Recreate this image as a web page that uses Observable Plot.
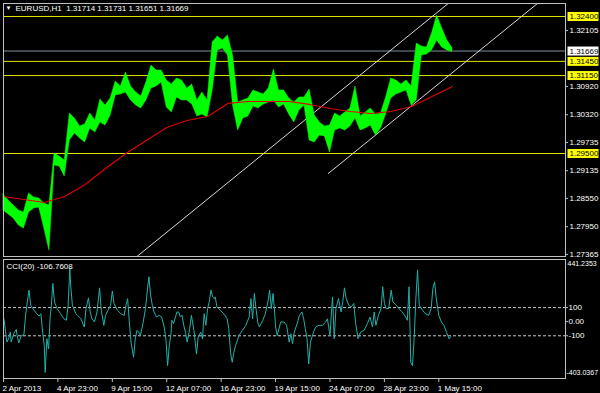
<!DOCTYPE html>
<html><head><meta charset="utf-8">
<script src="https://cdn.jsdelivr.net/npm/d3@7"></script>
<script src="https://cdn.jsdelivr.net/npm/@observablehq/plot@0.6"></script>
<style>
html,body{margin:0;padding:0;background:#000;}
#chart{position:relative;width:600px;height:393px;background:#000;overflow:hidden;}
#chart svg{position:absolute;left:0;display:block;}
</style></head><body><div id="chart"></div>
<script>
// ---- data ----
const symbol = "EURUSD,H1";
const lastBar = [1.31714, 1.31731, 1.31651, 1.31669]; // O H L C
const visibleBars = 661;
const barStep = 6;
const priceHigh = [1.28632,1.28505,1.28400,1.28294,1.28251,1.28654,1.28569,1.28548,1.28442,1.28400,
  1.29500,1.29437,1.29352,1.30347,1.30241,1.30072,1.30114,1.30347,1.30199,1.30643,
  1.30516,1.30665,1.31024,1.30919,1.31215,1.30919,1.30792,1.30707,1.31003,1.31363,
  1.31257,1.31257,1.31046,1.30961,1.31088,1.31046,1.30876,1.30961,1.30622,1.30792,
  1.30622,1.31850,1.31977,1.31892,1.31998,1.31575,1.30580,1.30622,1.30665,1.30834,
  1.30792,1.30749,1.30876,1.31278,1.30834,1.30834,1.30665,1.30580,1.30686,1.30686,
  1.30855,1.30305,1.30157,1.30072,1.30093,1.30347,1.30284,1.30368,1.30453,1.30919,
  1.30284,1.30368,1.30453,1.30326,1.30347,1.30686,1.31088,1.31046,1.30961,1.31046,
  1.30919,1.31829,1.31765,1.31744,1.32040,1.32421,1.32146,1.31892,1.31731];
const priceLow = [1.28294,1.28209,1.28124,1.27976,1.27913,1.28251,1.28336,1.28357,1.27913,1.27447,
  1.29246,1.29225,1.29013,1.29776,1.29924,1.29818,1.29733,1.30030,1.29945,1.30157,
  1.30093,1.30305,1.30728,1.30749,1.30792,1.30622,1.30516,1.30453,1.30622,1.30876,
  1.30919,1.31003,1.30474,1.30368,1.30686,1.30622,1.30622,1.30538,1.30284,1.30326,
  1.30262,1.30834,1.31681,1.31723,1.31575,1.30516,1.29987,1.30241,1.30284,1.30495,
  1.30453,1.30538,1.30580,1.30622,1.30474,1.30538,1.30326,1.30157,1.30411,1.30516,
  1.29776,1.29733,1.29881,1.29860,1.29521,1.29987,1.30030,1.29987,1.30072,1.30241,
  1.29987,1.30030,1.30093,1.29881,1.30030,1.30326,1.30665,1.30749,1.30792,1.30834,
  1.30516,1.30622,1.31575,1.31596,1.31681,1.31892,1.31744,1.31681,1.31651];
const maStep = 24;
const maValues = [1.28590,1.28527,1.28463,1.28590,1.28844,1.29183,1.29500,1.29776,1.30051,1.30199,
  1.30284,1.30559,1.30601,1.30601,1.30601,1.30538,1.30453,1.30389,1.30347,1.30389,
  1.30495,1.30707,1.30919];
const levels = [1.32400, 1.31450, 1.31150, 1.29500];
const bid = 1.31669;
const priceTicks = [1.32105, 1.30920, 1.30320, 1.29735, 1.29135, 1.28550, 1.27950, 1.27365];
const priceMin = 1.27320, priceMax = 1.32675;
const upperBars = [157, 523], upperPrices = [1.27320, 1.32675];
const lowerBars = [382, 628], lowerPrices = [1.29077, 1.32675];

const cciLabel = "CCI(20)";
const cciLast = -106.7608;
const cciMax = 441.2353, cciMin = -403.0367;
const cciLevels = [100, -100];
const cciTicks = [100, 0, -100];
const cciBars = [0,1,4,6,8,9,12,15,16,18,21,24,26,28,30,32,36,39,42,44,46,48,49,51,53,55,56,58,60,63,
  67,71,74,76,78,79,81,85,87,91,95,97,100,102,104,107,110,113,115,118,120,123,126,128,130,134,138,142,144,146,
  148,150,153,155,157,159,161,164,167,169,171,173,175,177,180,183,186,189,191,193,195,197,198,200,204,206,208,210,212,214,
  216,219,221,224,227,229,232,234,236,238,240,242,244,246,248,249,251,255,259,263,265,267,269,271,273,277,281,285,289,291,
  293,295,297,299,301,303,305,308,311,313,315,317,319,320,322,324,326,330,333,336,338,340,342,346,348,351,353,355,357,359,
  361,364,367,371,375,379,381,384,386,387,389,391,394,397,399,401,403,406,409,412,414,417,420,424,428,431,434,436,438,441,
  444,446,448,450,453,456,458,462,465,469,473,475,477,479,481,483,485,487,489,493,496,500,503,505,507,509,512,515,518,521,524,526];
const cciValues = [33,-2,-145,-121,-74,-145,-86,-55,-98,-150,-98,-93,45,140,224,117,81,57,40,57,-74,-169,-360,-121,-193,45,93,271,140,93,
  57,21,10,117,379,260,117,57,45,21,-38,93,169,69,21,-2,69,240,81,-26,45,81,117,217,129,81,57,45,117,164,
  -2,-145,-252,-121,-62,-74,-98,-14,93,212,319,188,117,69,33,45,33,-38,-121,-312,-169,-86,10,-14,69,69,33,45,-26,-74,
  -145,-50,45,-62,-229,-110,-74,-121,57,-26,93,140,224,176,164,176,105,81,57,21,-50,-217,-288,-217,-169,-98,-62,-26,33,164,
  21,200,93,-2,-38,-14,10,57,140,224,93,200,57,-38,-98,-50,-2,-2,-26,-145,-86,-157,-74,-2,45,69,21,-50,-121,-300,
  -145,-86,-38,-26,-26,-2,21,-98,93,176,-121,93,164,69,140,240,164,117,105,129,-2,-121,-74,-62,-14,33,-38,69,-26,45,
  93,248,129,93,93,224,140,117,93,69,33,10,248,-288,-312,-121,164,367,117,81,57,45,93,236,283,164,45,-2,-26,-74,-121,-106.7608];

const timeTickBars = [0, 64, 128, 192, 256, 320, 384, 448, 512];
const timeTickLabels = ["2 Apr 2013","4 Apr 23:00","9 Apr 15:00","12 Apr 07:00","16 Apr 23:00","19 Apr 15:00","24 Apr 07:00","28 Apr 23:00","1 May 15:00"];

// ---- derived tables ----
const priceData = priceHigh.map((h, i) => ({bar: i * barStep, high: h, low: priceLow[i]}));
const maData = maValues.map((v, i) => ({bar: i * maStep, ma: v}));
const upperData = upperBars.map((b, i) => ({bar: b, price: upperPrices[i]}));
const lowerData = lowerBars.map((b, i) => ({bar: b, price: lowerPrices[i]}));
const cciData = cciBars.map((b, i) => ({bar: b, v: cciValues[i]}));
const fmt5 = d => d.toFixed(5);
const font = "Liberation Sans, Arial, sans-serif";
const fs = 8;
const style = {background: "#000", color: "#fff", fontFamily: font, fontSize: fs + "px", overflow: "visible"};
const title = symbol + "\u00a0\u00a0" + lastBar.map(fmt5).join(" ");

const main = Plot.plot({
  width: 600, height: 258, marginTop: 3, marginBottom: 2, marginLeft: 3, marginRight: 35,
  style,
  x: {domain: [0, visibleBars], axis: null},
  y: {domain: [priceMin, priceMax], axis: null},
  marks: [
    Plot.ruleY(levels, {stroke: "#e4e400", strokeWidth: 1}),
    Plot.ruleY([bid], {stroke: "#7f8fa0", strokeWidth: 1}),
    Plot.line(upperData, {x: "bar", y: "price", stroke: "#d8d8d8", strokeWidth: 1, clip: true}),
    Plot.line(lowerData, {x: "bar", y: "price", stroke: "#d8d8d8", strokeWidth: 1, clip: true}),
    Plot.areaY(priceData, {x: "bar", y1: "low", y2: "high", fill: "#00ff00", stroke: "#00ff00", strokeWidth: 0.5}),
    Plot.line(maData, {x: "bar", y: "ma", stroke: "#e00000", strokeWidth: 1.2}),
    Plot.frame({stroke: "#c0c0c0"}),
    Plot.ruleY(priceTicks, {stroke: "#c0c0c0", insetLeft: 562, insetRight: -3}),
    Plot.text(priceTicks, {y: d => d, text: fmt5, frameAnchor: "right", textAnchor: "start", lineAnchor: "middle", dx: 4, fill: "#fff", fontSize: fs, fontFamily: font}),
    Plot.ruleY(levels, {stroke: "#ffff00", strokeWidth: 9, insetLeft: 564.5, insetRight: -33.5}),
    Plot.text(levels, {y: d => d, text: fmt5, frameAnchor: "right", textAnchor: "start", lineAnchor: "middle", dx: 4, fill: "#000", fontSize: fs, fontFamily: font}),
    Plot.ruleY([bid], {stroke: "#ffffff", strokeWidth: 9, insetLeft: 564.5, insetRight: -33.5}),
    Plot.text([bid], {y: d => d, text: fmt5, frameAnchor: "right", textAnchor: "start", lineAnchor: "middle", dx: 4, fill: "#000", fontSize: fs, fontFamily: font}),
    Plot.text(["\u25BC"], {text: d => d, frameAnchor: "top-left", dx: 5, dy: 5, textAnchor: "middle", lineAnchor: "middle", fill: "#fff", fontSize: 6}),
    Plot.text([title], {text: d => d, frameAnchor: "top-left", dx: 12, dy: 5, textAnchor: "start", lineAnchor: "middle", fill: "#fff", fontSize: fs, fontFamily: font})
  ]
});

const cci = Plot.plot({
  width: 600, height: 135, marginTop: 1, marginBottom: 15, marginLeft: 3, marginRight: 35,
  style,
  x: {domain: [0, visibleBars], axis: null},
  y: {domain: [cciMin, cciMax], axis: null},
  marks: [
    Plot.ruleY(cciLevels, {stroke: "#c8c8c8", strokeDasharray: "3,2"}),
    Plot.line(cciData, {x: "bar", y: "v", stroke: "#20b2aa", strokeWidth: 1}),
    Plot.frame({stroke: "#c0c0c0"}),
    Plot.ruleY(cciTicks, {stroke: "#c0c0c0", insetLeft: 562, insetRight: -3}),
    Plot.text(cciTicks, {y: d => d, text: d => d === 0 ? "0.00" : String(d), frameAnchor: "right", textAnchor: "start", lineAnchor: "middle", dx: 3, fill: "#fff", fontSize: fs, fontFamily: font}),
    Plot.text([cciMax], {y: d => d, text: d => d.toFixed(4), frameAnchor: "right", textAnchor: "start", lineAnchor: "middle", dx: 2, dy: 4, fill: "#fff", fontSize: 7, fontFamily: font}),
    Plot.text([cciMin], {y: d => d, text: d => d.toFixed(4), frameAnchor: "right", textAnchor: "start", lineAnchor: "middle", dx: 1, dy: -6, fill: "#fff", fontSize: 7, fontFamily: font}),
    Plot.text([cciLabel + " " + cciLast.toFixed(4)], {text: d => d, frameAnchor: "top-left", dx: 3, dy: 7, textAnchor: "start", lineAnchor: "middle", fill: "#fff", fontSize: fs, fontFamily: font}),
    Plot.ruleX(timeTickBars, {stroke: "#c0c0c0", insetTop: 119, insetBottom: -4}),
    Plot.text(timeTickBars, {x: d => d, text: (d, i) => timeTickLabels[i], frameAnchor: "bottom", textAnchor: "start", lineAnchor: "middle", dx: -1, dy: 10, fill: "#fff", fontSize: fs, fontFamily: font})
  ]
});

const root = document.getElementById("chart");
main.style.top = "0px";
cci.style.top = "258px";
root.appendChild(main);
root.appendChild(cci);
</script>
</body></html>
